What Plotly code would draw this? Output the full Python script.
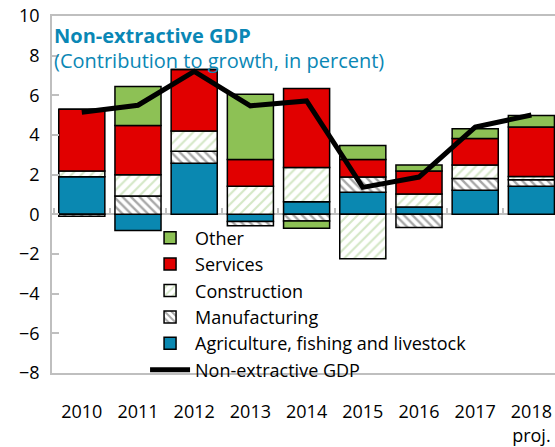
import plotly.graph_objects as go

years = ["2010", "2011", "2012", "2013", "2014", "2015", "2016", "2017", "2018<br>proj."]

agriculture = [1.90, -0.81, 2.57, -0.36, 0.63, 1.11, 0.37, 1.21, 1.41]
manufacturing = [-0.10, 0.92, 0.61, -0.22, -0.33, 0.77, -0.66, 0.60, 0.33]
construction = [0.28, 1.07, 1.02, 1.41, 1.73, -2.24, 0.66, 0.68, 0.17]
services = [3.12, 2.49, 3.10, 1.36, 3.98, 0.89, 1.16, 1.33, 2.49]
other = [0.00, 1.96, 0.00, 3.28, -0.37, 0.70, 0.30, 0.49, 0.58]
non_extractive = [5.15, 5.50, 7.21, 5.47, 5.72, 1.36, 1.88, 4.40, 5.01]

y_ticks = [-8, -6, -4, -2, 0, 2, 4, 6, 8, 10]

FONT = "Open Sans"
GRAY = "#bfbfbf"
BLUE = "#0a88b1"
RED = "#e10000"
GREEN = "#8dc155"
TITLE_COLOR = "#0a87b5"

fig = go.Figure()

border = dict(color="black", width=1.5)

fig.add_trace(go.Bar(
    x=years, y=agriculture, name="Agriculture, fishing and livestock",
    marker=dict(color=BLUE, line=border), legendrank=5,
))
fig.add_trace(go.Bar(
    x=years, y=manufacturing, name="Manufacturing",
    marker=dict(color="white", line=border,
                pattern=dict(shape="\\", fgcolor="#505050", bgcolor="white",
                             size=6, solidity=0.4)),
    legendrank=4,
))
fig.add_trace(go.Bar(
    x=years, y=construction, name="Construction",
    marker=dict(color="white", line=border,
                pattern=dict(shape="/", fgcolor="#a9d08e", bgcolor="white",
                             size=7, solidity=0.3)),
    legendrank=3,
))
fig.add_trace(go.Bar(
    x=years, y=services, name="Services",
    marker=dict(color=RED, line=border), legendrank=2,
))
fig.add_trace(go.Bar(
    x=years, y=other, name="Other",
    marker=dict(color=GREEN, line=border), legendrank=1,
))
fig.add_trace(go.Scatter(
    x=years, y=non_extractive, name="Non-extractive GDP", mode="lines",
    line=dict(color="black", width=5), xaxis="x2", legendrank=6,
))

y_min, y_max = -8, 10
zero_pos = (0 - y_min) / (y_max - y_min)

fig.update_layout(
    width=555, height=447,
    margin=dict(l=52, r=0, t=16, b=70),
    paper_bgcolor="white", plot_bgcolor="white",
    barmode="relative", bargap=0.18,
    font=dict(family=FONT, size=18, color="black"),
    showlegend=True,
    legend=dict(
        x=0.185, y=0.43, xanchor="left", yanchor="top",
        bgcolor="rgba(0,0,0,0)", font=dict(size=18, family=FONT),
        itemwidth=40, tracegroupgap=0,
    ),
    xaxis=dict(
        type="category", range=[-0.53, 8.42],
        showline=True, linecolor=GRAY, linewidth=1.5, mirror=True,
        ticks="outside", ticklen=22, tickcolor="rgba(0,0,0,0)",
        showgrid=False, zeroline=False,
        tickfont=dict(size=18, family=FONT),
    ),
    xaxis2=dict(
        type="category", matches="x", overlaying="x", anchor="free",
        position=zero_pos, side="bottom",
        showline=False, showgrid=False, zeroline=False,
        ticks="inside", tickson="boundaries", ticklen=6,
        tickcolor=GRAY, tickwidth=1.5, showticklabels=False,
    ),
    yaxis=dict(
        range=[y_min, y_max], tickvals=y_ticks,
        showline=True, linecolor=GRAY, linewidth=1.5,
        ticks="inside", ticklen=7, tickcolor=GRAY, tickwidth=1.5,
        showgrid=False,
        zeroline=True, zerolinecolor=GRAY, zerolinewidth=1.5,
        ticklabelstandoff=7,
        tickfont=dict(size=18, family=FONT),
    ),
    annotations=[
        dict(text="<b>Non-extractive GDP</b>", xref="paper", yref="paper",
             x=0.0, y=0.945, xanchor="left", yanchor="middle", showarrow=False,
             font=dict(size=20, color=TITLE_COLOR, family=FONT)),
        dict(text="(Contribution to growth, in percent)", xref="paper", yref="paper",
             x=0.0, y=0.874, xanchor="left", yanchor="middle", showarrow=False,
             font=dict(size=20, color=TITLE_COLOR, family=FONT)),
    ],
)

fig.write_html("out.html", config={"displayModeBar": False},
               post_script="document.body.style.margin='0px';")
